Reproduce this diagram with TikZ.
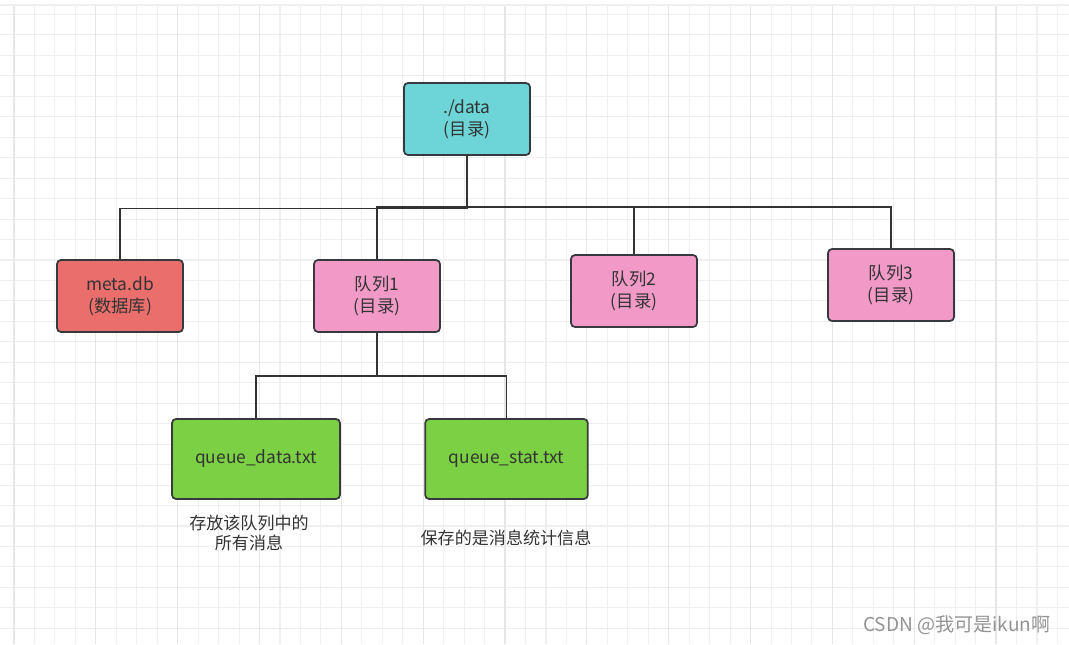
\documentclass[tikz,border=0pt]{standalone}
\usepackage{fontspec}
\setmainfont{Noto Sans CJK SC}
\usetikzlibrary{positioning,calc}
\definecolor{tinta}{HTML}{333333}
\definecolor{borde}{HTML}{36393D}
\definecolor{turquesa}{HTML}{6DD5D7}
\definecolor{rojo}{HTML}{EA6E6B}
\definecolor{rosa}{HTML}{F19AC8}
\definecolor{verde}{HTML}{7BD143}
\definecolor{rejilla}{HTML}{EFEFEF}
\definecolor{rejillaf}{HTML}{E6E6E6}

\begin{document}
\begin{tikzpicture}[x=0.75pt,y=-0.75pt,
      box/.style={rounded corners=3pt,draw=borde,line width=1.3pt,inner sep=0pt,
                  minimum width=94.5pt,minimum height=54pt,align=center,
                  font=\fontsize{13}{16.5}\selectfont,text=tinta},
      dir/.style={box,fill=turquesa},
      db/.style={box,fill=rojo},
      queue/.style={box,fill=rosa},
      file/.style={box,fill=verde,minimum width=126pt,minimum height=60pt},
      note/.style={align=center,font=\fontsize{12.8}{15}\selectfont,text=tinta},
      link/.style={line width=1.3pt,tinta}]
    % fondo y rejilla
    \useasboundingbox (0,0) rectangle (1069,644);
    \fill[white] (0,0) rectangle (1069,644);
    \foreach \i in {0,...,51} {
      \pgfmathsetmacro{\gx}{14+20.46*\i}
      \draw[rejilla,line width=0.8pt] (\gx,5) -- (\gx,644);
    }
    \foreach \i in {0,...,30} {
      \pgfmathsetmacro{\gy}{14.5+20.46*\i}
      \draw[rejilla,line width=0.8pt] (0,\gy) -- (1069,\gy);
    }
    \foreach \i in {0,4,...,48} {
      \pgfmathsetmacro{\gx}{14+20.46*\i}
      \draw[rejillaf,line width=0.9pt] (\gx,5) -- (\gx,644);
    }
    \draw[rejilla,line width=0.8pt] (0,5) -- (1069,5);
    % nodos
    \node[dir] (data) at (467,119) {./data\\(目录)};
    \node[db] (meta) at (120,296) {meta.db\\(数据库)};
    \node[queue] (q1) at (377,296) {队列1\\(目录)};
    \node[queue] (q2) at (634,291) {队列2\\(目录)};
    \node[queue] (q3) at (891,285) {队列3\\(目录)};
    \node[file] (fdata) at (256,459) {queue\_data.txt};
    \node[file,minimum width=122pt] (fstat) at (506.5,459) {queue\_stat.txt};
    \node[note] (ndata) at (249,533) {存放该队列中的\\所有消息};
    \node[note] (nstat) at (506,538) {保存的是消息统计信息};
    \node[anchor=east,font=\fontsize{14.3}{16}\selectfont,text=black!42] (marca) at (1055,625) {CSDN @我可是ikun啊};
    % conexiones
    \draw[link] (data.south) -- ++(0,52.5) -| (meta.north);
    \draw[link] (data.south) -- ++(0,51) -| (q1.north);
    \draw[link] (data.south) -- ++(0,51) -| (q2.north);
    \draw[link] (data.south) -- ++(0,51) -| (q3.north);
    \draw[link] (q1.south) -- ++(0,43) -| (fdata.north);
    \draw[link] (q1.south) -- ++(0,43) -| (fstat.north);
  \end{tikzpicture}
\end{document}
